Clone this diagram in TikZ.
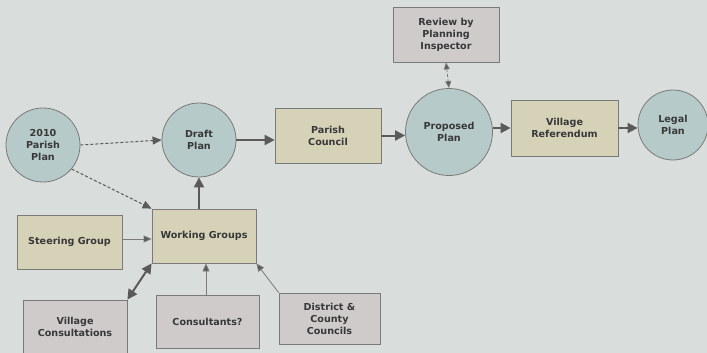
\documentclass[tikz,border=0pt]{standalone}
\usepackage{fontspec}
\setmainfont{DejaVu Sans}
\usetikzlibrary{arrows.meta}
\definecolor{bg}{HTML}{D9DDDC}
\definecolor{circfill}{HTML}{B6CACA}
\definecolor{tanfill}{HTML}{D5D2B8}
\definecolor{greyfill}{HTML}{CFCBCB}
\definecolor{edge}{HTML}{7A7A7A}
\definecolor{txt}{HTML}{383838}
\definecolor{arr}{HTML}{5A5A5A}
\tikzset{
  every node/.style={font=\bfseries\fontsize{9.6}{12}\selectfont, text=txt, align=center},
  circ/.style={circle, draw=edge, line width=0.8pt, fill=circfill, inner sep=0pt},
  tanbox/.style={rectangle, draw=edge, line width=0.8pt, fill=tanfill, inner sep=0pt},
  greybox/.style={rectangle, draw=edge, line width=0.8pt, fill=greyfill, inner sep=0pt},
  thickarr/.style={draw=arr, line width=2pt, -{Triangle[length=10pt,width=10pt]}},
  thinarr/.style={draw=edge, line width=0.8pt, -{Triangle[length=8pt,width=7pt,fill=arr]}},
  dasharr/.style={draw=arr, line width=1pt, dash pattern=on 3pt off 2pt, -{Triangle[length=9pt,width=8pt,fill=arr]}},
}
\begin{document}
\begin{tikzpicture}[x=1pt,y=-1pt]
\useasboundingbox (0,0) rectangle (707,353);
\fill[bg] (0,0) rectangle (707,353);

% circles
\node[circ, minimum size=74pt] (parish2010) at (43,145) {2010\\Parish\\Plan};
\node[circ, minimum size=74pt] (draft) at (199,140) {Draft\\Plan};
\node[circ, minimum size=87pt] (proposed) at (449,132) {Proposed\\Plan};
\node[circ, minimum size=70pt] (legal) at (673,125) {Legal\\Plan};

% tan boxes
\node[tanbox, minimum width=106pt, minimum height=55pt] (council) at (328,135.5) {Parish\\Council};
\node[tanbox, minimum width=107pt, minimum height=56pt] (referendum) at (564.5,128) {Village\\Referendum};
\node[tanbox, minimum width=105pt, minimum height=54pt] (steering) at (69.5,242) {Steering Group};
\node[tanbox, minimum width=104pt, minimum height=54pt] (working) at (204,236) {Working Groups};

% grey boxes
\node[greybox, minimum width=106pt, minimum height=55pt] (review) at (446,34.5) {Review by\\Planning\\Inspector};
\node[greybox, minimum width=104pt, minimum height=54pt] (villcons) at (75,327) {Village\\Consultations};
\node[greybox, minimum width=103pt, minimum height=53pt] (consult) at (207.5,321.5) {Consultants?};
\node[greybox, minimum width=101pt, minimum height=51pt] (district) at (329.5,318.5) {District \&\\County\\Councils};

% dashed connectors
\draw[dasharr] (parish2010.east) -- (draft.west);
\draw[dasharr] (parish2010.-40) -- (working.north west);

% thick main flow
\draw[thickarr] (working.north -| draft.south) -- (draft.south);
\draw[thickarr] (draft.east) -- (council.west |- draft.east);
\draw[thickarr] (council.east) -- (council.east -| proposed.west);
\draw[thickarr] (proposed.east |- referendum.west) -- (referendum.west);
\draw[thickarr] (referendum.east) -- (referendum.east -| legal.west);

% review <-> proposed
\draw[draw=edge, line width=0.8pt, densely dashed, {Triangle[length=7pt,width=6pt,fill=arr]}-{Triangle[length=7pt,width=6pt,fill=arr]}] (review.south) -- (proposed.north);

% inputs to working groups
\draw[thinarr] (steering.east |- 0,239) -- (working.west |- 0,239);
\draw[draw=arr, line width=2pt, {Triangle[length=10pt,width=10pt]}-{Triangle[length=10pt,width=10pt]}] (villcons.north east) -- (working.south west);
\draw[thinarr] (consult.north -| 206,0) -- (working.south -| 206,0);
\draw[thinarr] (district.north west) -- (working.south east);
\end{tikzpicture}
\end{document}
